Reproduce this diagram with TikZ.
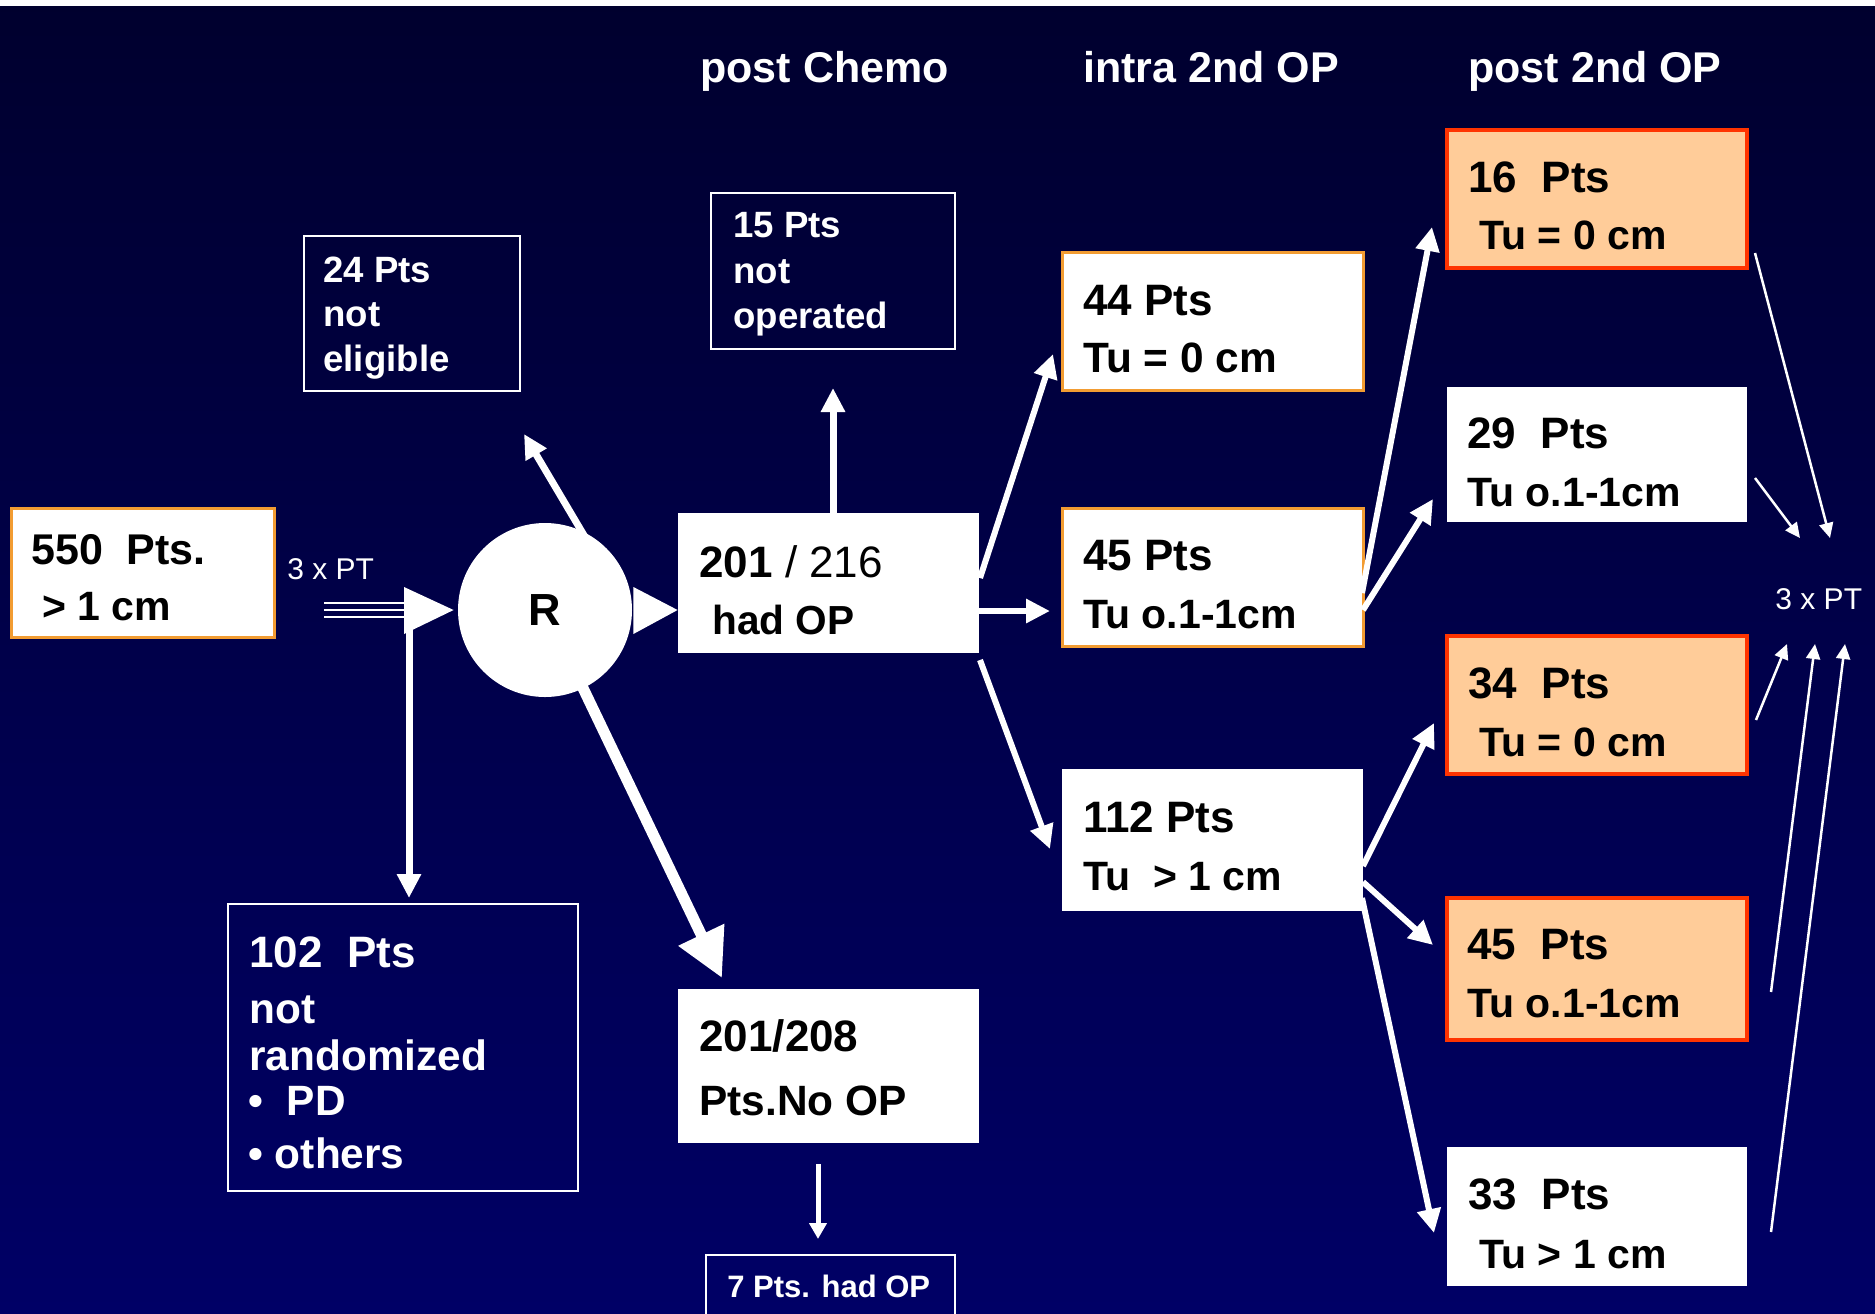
\documentclass[tikz,border=0pt]{standalone}
\usepackage{fontspec}
\setmainfont{Liberation Sans}
\usetikzlibrary{arrows.meta,fit,calc}
\definecolor{bgtop}{RGB}{0,0,46}
\definecolor{bgbot}{RGB}{0,0,102}
\definecolor{boxorange}{RGB}{242,156,50}
\definecolor{peach}{RGB}{255,204,153}
\definecolor{redline}{RGB}{255,51,0}
\tikzset{
  navybox/.style={draw=white, line width=1.25pt, inner sep=0pt},
  whitefill/.style={fill=white, inner sep=0pt},
  orangebox/.style={fill=white, draw=boxorange, line width=1.5pt, inner sep=0pt},
  peachbox/.style={fill=peach, draw=redline, line width=2pt, inner sep=0pt},
  tb/.style={anchor=base west, inner sep=0pt, text=black},
  tw/.style={anchor=base west, inner sep=0pt, text=white},
  fa/.style={font=\fontsize{22pt}{26pt}\selectfont\bfseries},
  fb/.style={font=\fontsize{20.5pt}{24pt}\selectfont\bfseries},
  fe/.style={font=\fontsize{21.2pt}{25pt}\selectfont\bfseries},
  fc/.style={font=\fontsize{18.3pt}{22pt}\selectfont\bfseries},
  fd/.style={font=\fontsize{15.5pt}{19pt}\selectfont\bfseries},
  fpt/.style={font=\fontsize{15pt}{18pt}\selectfont},
  hdr/.style={anchor=base west, inner sep=0pt, text=white, font=\fontsize{21.5pt}{26pt}\selectfont\bfseries},
  medarrow/.style={draw=white, line width=3pt, -{Triangle[length=12pt,width=11.5pt]}},
  sidearrow/.style={draw=white, line width=3.5pt, -{Triangle[length=12pt,width=11.5pt]}},
  thickarrow/.style={draw=white, line width=5.5pt, -{Triangle[length=24pt,width=24pt]}},
  smallarrow/.style={draw=white, line width=2.5pt, -{Triangle[length=8pt,width=8.5pt]}},
  thinarrow/.style={draw=white, line width=1.25pt, -{Triangle[length=7.5pt,width=7pt]}},
}
\begin{document}
\begin{tikzpicture}[x=0.5pt,y=-0.5pt]
\useasboundingbox (0,0) rectangle (1875,1313);
\shade[top color=bgtop, bottom color=bgbot] (0,0) rectangle (1875,1313);
\fill[white] (0,0) rectangle (1875,6);

% column headers
\node[hdr] (h1) at (700,82) {post Chemo};
\node[hdr] (h2) at (1083,82) {intra 2nd OP};
\node[hdr] (h3) at (1468,82) {post 2nd OP};

% boxes
\node[orangebox, fit={(11,508)(274,637)}] (n550) {};
\node[navybox, fit={(304,236)(520,391)}] (n24) {};
\node[navybox, fit={(711,193)(955,349)}] (n15) {};
\node[whitefill, fit={(678,513)(979,653)}] (n201) {};
\node[whitefill, fit={(678,989)(979,1143)}] (n208) {};
\node[navybox, fit={(706,1255)(955,1340)}] (n7) {};
\node[navybox, fit={(228,904)(578,1191)}] (n102) {};
\node[orangebox, fit={(1062,252)(1363,390)}] (n44) {};
\node[orangebox, fit={(1062,508)(1363,646)}] (n45i) {};
\node[whitefill, fit={(1062,769)(1363,911)}] (n112) {};
\node[peachbox, fit={(1447,130)(1747,268)}] (n16) {};
\node[whitefill, fit={(1447,387)(1747,522)}] (n29) {};
\node[peachbox, fit={(1447,636)(1747,774)}] (n34) {};
\node[peachbox, fit={(1447,898)(1747,1040)}] (n45p) {};
\node[whitefill, fit={(1447,1147)(1747,1286)}] (n33) {};

% randomisation circle
\node[circle, fill=white, minimum size=87pt, inner sep=0pt, text=black,
      font=\fontsize{22.5pt}{26pt}\selectfont\bfseries] (R) at (545,610) {R};

% connector end points
\coordinate (ptL) at (324,610);
\coordinate (ptR) at (404,610);
\coordinate (split) at (409,626);
\coordinate (a102e) at (409,898);
\coordinate (a24s) at (585,537);
\coordinate (a24e) at (524,434);
\coordinate (a208e) at (722,978);
\coordinate (a15s) at (833,513);
\coordinate (a15e) at (833,388);
\coordinate (a44s) at (980,578);
\coordinate (a44e) at (1053,354);
\coordinate (a45s) at (979,611);
\coordinate (a45e) at (1050,611);
\coordinate (a112s) at (980,660);
\coordinate (a112e) at (1050,849);
\coordinate (a16s) at (1362,593);
\coordinate (a16e) at (1432,227);
\coordinate (a29s) at (1363,610);
\coordinate (a29e) at (1433,499);
\coordinate (a34s) at (1363,866);
\coordinate (a34e) at (1434,723);
\coordinate (a45ps) at (1363,882);
\coordinate (a45pe) at (1433,945);
\coordinate (a33s) at (1362,898);
\coordinate (a33e) at (1434,1233);
\coordinate (a7s) at (818,1164);
\coordinate (a7e) at (818,1239);
\coordinate (t1s) at (1755,253);
\coordinate (t1e) at (1830,538);
\coordinate (t2s) at (1755,478);
\coordinate (t2e) at (1800,538);
\coordinate (t3s) at (1756,720);
\coordinate (t3e) at (1787,644);
\coordinate (t4s) at (1771,992);
\coordinate (t4e) at (1815,644);
\coordinate (t5s) at (1771,1232);
\coordinate (t5e) at (1845,644);

% 3 x PT input into R
\foreach \dy in {-7,0,7}
  \draw[white, line width=1.3pt] ($(ptL)+(0,\dy)$) -- ($(ptR)+(0,\dy)$);
\fill[white] ($(ptR)+(0,-23)$) -- ($(ptR)+(0,24)$) -- ($(R.west)+(-4,0)$) -- cycle;
\draw[sidearrow] (split) -- (a102e);

% out of R
\fill[white] ($(R.east)+(1,-23)$) -- ($(R.east)+(1,24)$) -- (n201.west |- R.east) -- cycle;
\draw[sidearrow] (a24s) -- (a24e);
\draw[thickarrow] ($(R.center)!0.92!(R.-64)$) -- (a208e);
\draw[sidearrow] (a15s) -- (a15e);
\draw[smallarrow] (a7s) -- (a7e);

% post chemo -> intra
\draw[medarrow] (a44s) -- (a44e);
\draw[medarrow] (a45s) -- (a45e);
\draw[medarrow] (a112s) -- (a112e);

% intra -> post
\draw[medarrow] (a16s) -- (a16e);
\draw[medarrow] (a29s) -- (a29e);
\draw[medarrow] (a34s) -- (a34e);
\draw[medarrow] (a45ps) -- (a45pe);
\draw[medarrow] (a33s) -- (a33e);

% thin arrows to right 3 x PT
\draw[thinarrow] (t1s) -- (t1e);
\draw[thinarrow] (t2s) -- (t2e);
\draw[thinarrow] (t3s) -- (t3e);
\draw[thinarrow] (t4s) -- (t4e);
\draw[thinarrow] (t5s) -- (t5e);

% texts
\node[tb, font=\fontsize{21.5pt}{25pt}\selectfont\bfseries] (x550a) at (31,564) {550\ \ Pts.};
\node[tb, fb] (x550b) at (42,620) {> 1 cm};
\node[tw, fpt] (xptl) at (287,579) {3 x PT};
\node[tw, fpt] (xptr) at (1775,609) {3 x PT};

\node[tw, fc] (x24a) at (323,282) {24 Pts};
\node[tw, fc] (x24b) at (323,326) {not};
\node[tw, fc] (x24c) at (323,371) {eligible};

\node[tw, fc] (x15a) at (733,237) {15 Pts};
\node[tw, fc] (x15b) at (733,283) {not};
\node[tw, fc] (x15c) at (733,328) {operated};

\node[tb] (x201a) at (699,577) {{\fontsize{22pt}{26pt}\selectfont\bfseries 201}{\fontsize{22pt}{26pt}\selectfont\ / 216}};
\node[tb, font=\fontsize{20.3pt}{24pt}\selectfont\bfseries] (x201b) at (712,634) {had OP};

\node[tb, fa] (x208a) at (699,1051) {201/208};
\node[tb, fe] (x208b) at (699,1115) {Pts.No OP};

\node[tw, fd] (x7) at (727,1297) {7 Pts. had OP};

\node[tw, fa] (x102a) at (249,967) {102\ \ Pts};
\node[tw, fe] (x102b) at (249,1023) {not};
\node[tw, fe] (x102c) at (249,1070) {randomized};
\node[tw, fe] (x102d) at (248,1115) {•\ \ PD};
\node[tw, fe] (x102e) at (248,1168) {• others};

\node[tb, fa] (x44a) at (1083,315) {44 Pts};
\node[tb, fe] (x44b) at (1083,372) {Tu = 0 cm};
\node[tb, fa] (x45a) at (1083,570) {45 Pts};
\node[tb, fb] (x45b) at (1083,628) {Tu o.1-1cm};
\node[tb, fa] (x112a) at (1083,832) {112 Pts};
\node[tb, fb] (x112b) at (1083,890) {Tu\ \ > 1 cm};

\node[tb, fa] (x16a) at (1468,192) {16\ \ Pts};
\node[tb, fb] (x16b) at (1479,249) {Tu = 0 cm};
\node[tb, fa] (x29a) at (1467,448) {29\ \ Pts};
\node[tb, fb] (x29b) at (1467,506) {Tu o.1-1cm};
\node[tb, fa] (x34a) at (1468,698) {34\ \ Pts};
\node[tb, fb] (x34b) at (1479,756) {Tu = 0 cm};
\node[tb, fa] (x45pa) at (1467,959) {45\ \ Pts};
\node[tb, fb] (x45pb) at (1467,1017) {Tu o.1-1cm};
\node[tb, fa] (x33a) at (1468,1209) {33\ \ Pts};
\node[tb, fb] (x33b) at (1479,1268) {Tu > 1 cm};
\end{tikzpicture}
\end{document}
